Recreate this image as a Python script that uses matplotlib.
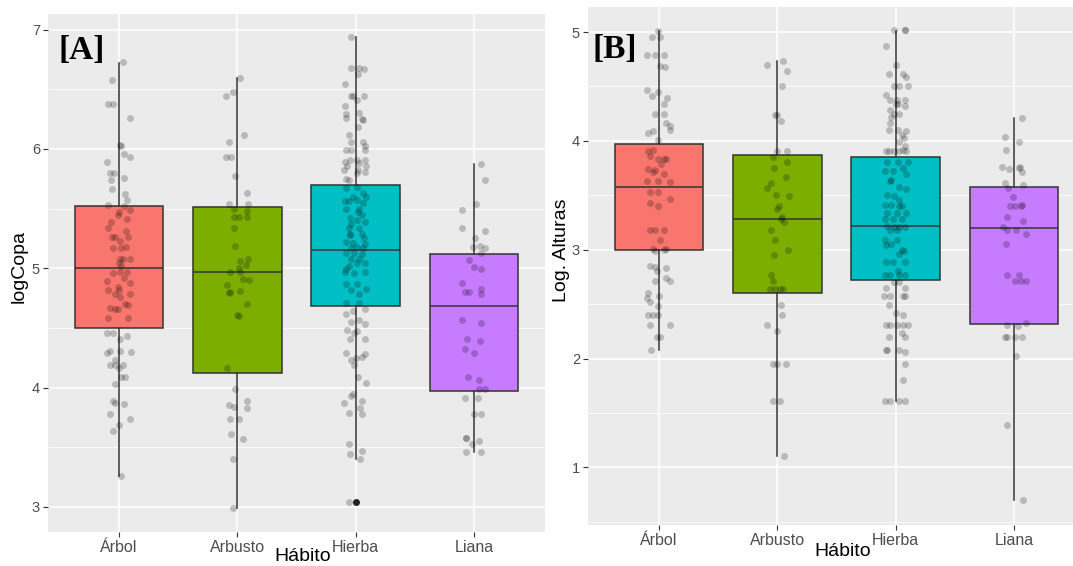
import numpy as np
import matplotlib
matplotlib.use("Agg")
import matplotlib.pyplot as plt

habitos = ["Árbol", "Arbusto", "Hierba", "Liana"]
colores = ["#F8766D", "#7CAE00", "#00BFC4", "#C77CFF"]

# ---- panel A: logCopa, box statistics ----
copa_q1 = [4.50, 4.12, 4.68, 3.97]
copa_med = [5.00, 4.97, 5.15, 4.68]
copa_q3 = [5.52, 5.51, 5.70, 5.12]
copa_wlo = [3.26, 2.99, 3.40, 3.46]
copa_whi = [6.72, 6.59, 6.94, 5.87]
copa_out = [[], [], [3.04], []]

# jittered observations (value, horizontal jitter in category units)
copa_arbol_y = [6.73, 6.58, 6.38, 6.38, 6.26, 6.03, 6.02, 5.96, 5.93, 5.89,
                5.80, 5.80, 5.74, 5.76, 5.66, 5.62, 5.57, 5.53, 5.52, 5.49,
                5.47, 5.45, 5.39, 5.34, 5.41, 5.31, 5.26, 5.26, 5.26, 5.23,
                5.17, 5.17, 5.18, 5.08, 5.08, 5.08, 5.04, 5.02,
                4.96, 4.97, 4.97, 4.89, 4.88, 4.92, 4.84, 4.82, 4.82, 4.78,
                4.78, 4.76, 4.70, 4.69, 4.67, 4.66, 4.66, 4.58, 4.58, 4.46,
                4.46, 4.43, 4.41, 4.31, 4.31, 4.30, 4.29, 4.23, 4.19, 4.19,
                4.19, 4.16, 4.09, 4.09, 4.03, 3.89, 3.87, 3.86, 3.78, 3.74,
                3.69, 3.64, 3.26]
copa_arbol_jit = [0.03, -0.06, -0.09, -0.05, 0.09, 0.01, 0.02, 0.04, 0.09, -0.10,
                  -0.08, -0.04, -0.07, 0.04, -0.06, 0.05, 0.07, -0.09, 0.04, 0.09,
                  0.00, -0.01, -0.07, -0.09, 0.07, 0.06, -0.06, -0.03, 0.08, 0.01,
                  -0.05, 0.02, 0.06, 0.03, 0.09, 0.01, 0.00, 0.02,
                  -0.05, 0.01, 0.07, -0.10, 0.09, 0.04, -0.01, -0.09, 0.00, -0.03,
                  0.09, 0.01, 0.05, 0.08, -0.08, -0.03, -0.01, -0.09, 0.08, -0.10,
                  -0.05, 0.07, 0.01, -0.08, 0.01, 0.10, -0.10, -0.03, -0.08, -0.03,
                  0.03, 0.00, 0.02, 0.05, -0.03, -0.05, -0.03, 0.04, -0.08, 0.09,
                  0.00, -0.05, 0.02]

copa_arbusto_y = [6.59, 6.48, 6.44, 6.12, 6.06, 5.93, 5.93, 5.77, 5.63, 5.54,
                  5.54, 5.50, 5.48, 5.43, 5.43, 5.43, 5.34, 5.19, 5.06, 5.08,
                  5.00, 5.03, 4.97, 4.97, 4.91, 4.90, 4.86, 4.80, 4.79, 4.81,
                  4.70, 4.61, 4.60, 4.16, 3.99, 3.85, 3.84, 3.89, 3.83, 3.74,
                  3.74, 3.61, 3.57, 3.40, 2.99]
copa_arbusto_jit = [0.02, -0.04, -0.10, 0.06, -0.07, -0.10, -0.05, -0.02, 0.08, -0.07,
                    0.09, -0.03, 0.08, -0.03, 0.01, 0.08, -0.03, -0.02, 0.02, 0.09,
                    0.01, 0.07, -0.06, 0.02, 0.05, 0.10, -0.09, -0.06, -0.07, 0.02,
                    0.08, 0.00, 0.01, -0.09, -0.02, -0.07, -0.03, 0.08, 0.08, -0.06,
                    0.01, -0.05, 0.05, -0.04, -0.04]

copa_hierba_y = [6.94, 6.68, 6.68, 6.67, 6.63, 6.54, 6.44, 6.44, 6.44, 6.41,
                 6.36, 6.29, 6.26, 6.30, 6.25, 6.24, 6.18, 6.12, 6.06, 6.06,
                 6.02, 5.99, 5.99, 5.99, 5.91, 5.91, 5.91, 5.89, 5.82, 5.86,
                 5.86, 5.88, 5.75, 5.74, 5.80, 5.81, 5.82,
                 5.67, 5.68, 5.63, 5.56, 5.56, 5.57, 5.55, 5.50, 5.50, 5.42,
                 5.40, 5.39, 5.34, 5.34, 5.29, 5.29, 5.22, 5.21, 5.20, 5.17,
                 5.18, 5.17, 5.13, 5.08, 5.08, 5.04, 5.04, 4.99,
                 5.60, 5.45, 5.37, 5.25, 5.13, 5.02, 5.12, 5.47, 5.28, 5.60,
                 4.97, 4.96, 4.97, 4.87, 4.87, 4.83, 4.82, 4.78, 4.71, 4.71,
                 4.62, 4.64, 4.66, 4.55, 4.57, 4.53, 4.48, 4.47, 4.41, 4.41,
                 4.46, 4.29, 4.23, 4.25, 4.28, 4.26, 4.19, 4.09, 4.04, 3.93,
                 3.95, 3.87, 3.89, 3.83, 3.79, 3.78, 3.53, 3.44, 3.47, 3.40,
                 3.04]
copa_hierba_jit = [-0.04, -0.04, 0.03, 0.07, 0.02, -0.09, -0.04, -0.02, 0.07, 0.01,
                   -0.09, -0.08, -0.08, 0.03, 0.05, 0.06, 0.02, -0.06, -0.04, 0.06,
                   0.08, -0.08, -0.04, 0.08, -0.05, 0.01, 0.08, -0.09, -0.10, -0.07,
                   0.09, 0.03, -0.08, -0.06, 0.01, 0.08, 0.02,
                   -0.08, 0.01, 0.06, -0.09, -0.06, 0.01, 0.06, -0.08, 0.03, -0.05,
                   0.01, 0.08, -0.06, 0.03, -0.05, 0.05, -0.08, -0.02, 0.08, -0.04,
                   0.01, 0.06, -0.08, -0.04, 0.03, 0.01, 0.08, -0.08,
                   -0.02, 0.05, -0.04, 0.07, -0.01, -0.06, 0.05, 0.02, -0.05, 0.09,
                   -0.09, -0.01, 0.08, -0.08, 0.01, 0.09, -0.04, 0.03, -0.08, 0.03,
                   -0.08, -0.02, 0.08, -0.04, 0.03, 0.08, -0.07, 0.01, -0.05, 0.08,
                   -0.01, -0.08, -0.04, 0.00, 0.08, 0.05, -0.01, 0.02, 0.09, -0.04,
                   -0.02, -0.10, 0.05, 0.04, -0.06, 0.05, -0.06, -0.05, 0.05, 0.04,
                   -0.06]

copa_liana_y = [5.87, 5.74, 5.54, 5.49, 5.34, 5.31, 5.25, 5.19, 5.17, 5.18,
                5.13, 5.07, 5.01, 4.99, 4.88, 4.80, 4.80, 4.83, 4.78, 4.57,
                4.54, 4.41, 4.39, 4.32, 4.29, 4.09, 4.06, 3.99, 3.99, 3.91,
                3.91, 3.78, 3.78, 3.58, 3.58, 3.53, 3.55, 3.46, 3.46]
copa_liana_jit = [0.06, 0.09, 0.02, -0.10, -0.10, 0.09, 0.01, 0.05, 0.09, -0.01,
                  0.06, -0.04, 0.00, 0.06, -0.10, -0.08, -0.04, 0.06, 0.06, -0.10,
                  0.06, -0.06, 0.05, -0.08, 0.00, -0.05, 0.04, 0.04, 0.09, -0.08,
                  0.03, 0.00, 0.06, -0.07, -0.07, -0.02, 0.04, -0.07, 0.06]

# ---- panel B: Log. Alturas ----
alt_q1 = [3.00, 2.60, 2.72, 2.32]
alt_med = [3.58, 3.28, 3.22, 3.20]
alt_q3 = [3.97, 3.87, 3.855, 3.575]
alt_wlo = [2.08, 1.10, 1.61, 0.70]
alt_whi = [5.01, 4.73, 5.01, 4.21]
alt_out = [[], [], [], []]

alt_arbol_y = [5.01, 4.95, 4.95, 4.79, 4.79, 4.79, 4.69, 4.68, 4.47, 4.45,
               4.41, 4.39, 4.34, 4.25, 4.25, 4.16, 4.14, 4.10, 4.07, 4.09,
               4.01, 3.91, 3.92, 3.83, 3.83, 3.86, 3.83, 3.74, 3.71, 3.79,
               3.70, 3.73, 3.62, 3.63, 3.63, 3.53, 3.53, 3.47, 3.43, 3.40,
               3.18, 3.18, 3.18, 3.09, 3.01, 3.00, 3.01, 2.99, 2.85, 2.84,
               2.83, 2.80, 2.74, 2.71, 2.71, 2.60, 2.56, 2.52, 2.57, 2.48,
               2.40, 2.40, 2.40, 2.31, 2.31, 2.20, 2.20, 2.08]
alt_arbol_jit = [-0.01, -0.06, 0.01, -0.10, -0.03, 0.04, 0.01, 0.05, -0.10, -0.01,
                 -0.06, 0.07, 0.04, -0.03, 0.04, 0.06, 0.09, 0.09, -0.09, -0.05,
                 -0.01, -0.09, -0.05, 0.04, 0.06, -0.08, -0.01, -0.09, -0.05, 0.02,
                 0.04, -0.03, 0.09, -0.10, -0.01, -0.08, -0.01, 0.09, -0.08, -0.01,
                 -0.08, -0.03, 0.04, 0.01, -0.05, 0.04, 0.06, -0.03, -0.08, -0.03,
                 0.06, -0.02, 0.06, 0.09, -0.03, -0.09, -0.10, -0.08, 0.00, -0.01,
                 -0.09, -0.05, -0.01, -0.08, 0.09, -0.02, 0.01, -0.07]

alt_arbusto_y = [4.73, 4.70, 4.64, 4.50, 4.24, 4.24, 4.18, 3.91, 3.91, 3.85,
                 3.81, 3.75, 3.67, 3.61, 3.57, 3.50, 3.49, 3.40, 3.37, 3.30,
                 3.25, 3.28, 3.18, 3.09, 3.00, 2.95, 2.77, 2.71, 2.64, 2.64,
                 2.64, 2.64, 2.49, 2.40, 2.31, 2.25, 1.95, 1.95, 1.95, 1.61,
                 1.61, 1.10]
alt_arbusto_jit = [0.05, -0.09, 0.08, 0.04, -0.02, 0.00, 0.03, 0.00, 0.08, -0.04,
                   0.08, -0.03, 0.07, -0.05, -0.09, -0.01, 0.10, 0.01, 0.00, 0.04,
                   0.06, 0.03, -0.05, -0.02, 0.09, -0.03, -0.05, -0.04, -0.06, -0.02,
                   0.02, 0.05, 0.03, 0.04, -0.09, 0.00, -0.04, 0.00, 0.07, -0.04,
                   0.02, 0.06]

alt_hierba_y = [5.02, 5.02, 5.02, 4.87, 4.70, 4.61, 4.61, 4.59, 4.50, 4.50,
                4.50, 4.42, 4.38, 4.38, 4.38, 4.34, 4.34, 4.32, 4.28, 4.25,
                4.25, 4.22, 4.16, 4.10, 4.10, 4.09, 4.05, 4.03, 3.99, 3.95,
                3.92, 3.91, 3.91, 3.91, 3.91, 3.91,
                3.81, 3.81, 3.81, 3.72, 3.72, 3.75, 3.70, 3.63, 3.64, 3.58,
                3.50, 3.49, 3.56, 3.46, 3.41, 3.41, 3.40, 3.40, 3.34, 3.34,
                3.34, 3.28, 3.28, 3.28, 3.22, 3.21, 3.21, 3.21, 3.18, 3.18,
                3.09, 3.09, 3.05, 3.04, 3.00, 2.99, 2.96, 2.89, 2.89, 2.89,
                2.77, 2.77, 2.77, 2.77, 2.80, 2.65, 2.70, 2.65, 2.70, 2.57,
                2.57, 2.57, 2.57, 2.49, 2.42, 2.40, 2.31, 2.31, 2.31, 2.31,
                2.31, 2.23, 2.20, 2.20, 2.08, 2.08, 2.08, 2.06, 1.95, 1.80,
                1.61, 1.61, 1.61, 1.61]
alt_hierba_jit = [-0.01, 0.08, 0.08, -0.08, 0.00, -0.06, 0.06, 0.09, -0.01, 0.03,
                  0.10, -0.08, -0.05, 0.01, 0.08, 0.02, 0.00, 0.08, -0.05, -0.01,
                  0.03, -0.04, -0.05, -0.06, 0.02, 0.09, 0.05, 0.07, 0.03, 0.08,
                  0.06, -0.08, -0.06, -0.01, 0.03, 0.09,
                  -0.07, 0.02, 0.10, -0.09, -0.02, 0.06, 0.09, -0.05, -0.04, 0.03,
                  -0.07, -0.01, 0.09, 0.03, -0.09, -0.04, 0.03, 0.05, -0.07, 0.01,
                  0.09, -0.09, -0.02, 0.05, -0.07, -0.01, 0.03, 0.08, -0.05, 0.01,
                  -0.09, 0.01, -0.04, -0.08, 0.05, 0.07, 0.03, -0.08, -0.02, 0.08,
                  -0.09, -0.05, 0.03, 0.08, 0.02, -0.08, -0.01, 0.08, 0.03, -0.10,
                  -0.05, 0.06, 0.08, -0.06, 0.00, 0.06, -0.08, -0.05, 0.01, 0.06,
                  0.10, 0.05, -0.06, 0.08, -0.08, -0.07, 0.03, 0.08, 0.08, 0.06,
                  -0.09, -0.05, 0.03, 0.08]

alt_liana_y = [4.21, 4.04, 3.99, 3.92, 3.76, 3.74, 3.75, 3.76, 3.71, 3.61,
               3.57, 3.59, 3.48, 3.40, 3.40, 3.41, 3.40, 3.30, 3.26, 3.21,
               3.18, 3.18, 3.14, 3.05, 2.77, 2.77, 2.71, 2.71, 2.71, 2.31,
               2.30, 2.33, 2.20, 2.20, 2.20, 2.20, 2.02, 1.39, 0.70]
alt_liana_jit = [0.07, -0.08, 0.04, -0.07, -0.10, -0.04, 0.04, 0.05, 0.07, -0.08,
                 -0.05, 0.08, -0.01, -0.03, 0.01, 0.07, 0.06, -0.06, 0.08, -0.09,
                 -0.06, 0.02, 0.10, -0.07, -0.06, 0.04, 0.01, 0.06, 0.10, -0.06,
                 0.03, 0.10, -0.08, -0.06, 0.01, 0.07, 0.02, -0.06, 0.08]

W, H = 1073, 566
fig = plt.figure(figsize=(W / 100, H / 100), dpi=100, facecolor="white")


def panel(rect, q1, med, q3, wlo, whi, out, pts, ylabel, ylim, yticks, yminor,
          tag, tag_xy, ylab_xy, xlab_y):
    ax = fig.add_axes(rect)
    ax.set_facecolor("#EBEBEB")
    stats = [dict(q1=a, med=m, q3=b, whislo=lo, whishi=hi, fliers=f)
             for a, m, b, lo, hi, f in zip(q1, med, q3, wlo, whi, out)]
    edge = "#333333"
    bp = ax.bxp(stats, positions=[1, 2, 3, 4], widths=0.75, patch_artist=True,
                showcaps=False,
                boxprops=dict(edgecolor=edge, linewidth=1.1),
                medianprops=dict(color=edge, linewidth=1.1),
                whiskerprops=dict(color=edge, linewidth=1.1),
                flierprops=dict(marker="o", markerfacecolor="#222222",
                                markeredgecolor="none", markersize=5))
    for patch, c in zip(bp["boxes"], colores):
        patch.set_facecolor(c)
    for i, (yv, jit) in enumerate(pts):
        ax.scatter(i + 1 + np.array(jit), yv, s=25, c="black", alpha=0.21,
                   linewidths=0, zorder=4)

    ax.set_xlim(0.4, 4.6)
    ax.set_ylim(*ylim)
    ax.set_xticks([1, 2, 3, 4])
    ax.set_xticklabels(habitos)
    ax.set_yticks(yticks)
    ax.set_yticklabels([f"{t:g}" for t in yticks])
    ax.set_yticks(yminor, minor=True)
    ax.set_axisbelow(True)
    ax.grid(which="major", color="white", linewidth=1.1)
    ax.grid(which="minor", axis="y", color="white", linewidth=0.55)
    for s in ax.spines.values():
        s.set_visible(False)
    ax.tick_params(which="major", length=3.8, width=0.8, color="#333333",
                   labelcolor="#4D4D4D", pad=2)
    ax.tick_params(axis="x", labelsize=11.5)
    ax.tick_params(axis="y", labelsize=10.5)
    ax.tick_params(which="minor", length=0)
    for lab in ax.get_xticklabels() + ax.get_yticklabels():
        lab.set_family("Liberation Sans")

    ax.set_ylabel(ylabel, fontsize=14, family="Liberation Sans")
    ax.yaxis.set_label_coords(*ylab_xy)
    ax.set_xlabel("Hábito", fontsize=14, family="Liberation Sans")
    ax.xaxis.set_label_coords(0.513, xlab_y)
    ax.text(tag_xy[0], tag_xy[1], tag, transform=ax.transAxes, fontsize=24,
            fontweight="bold", family="Liberation Serif", ha="left", va="top")
    return ax


panel([48 / W, (H - 532) / H, 497 / W, 518 / H],
      copa_q1, copa_med, copa_q3, copa_wlo, copa_whi, copa_out,
      [(copa_arbol_y, copa_arbol_jit), (copa_arbusto_y, copa_arbusto_jit),
       (copa_hierba_y, copa_hierba_jit), (copa_liana_y, copa_liana_jit)],
      "logCopa", (2.79, 7.13), [3, 4, 5, 6, 7], [3.5, 4.5, 5.5, 6.5],
      "[A]", (0.022, 0.96), (-0.040, 0.512), -0.031)

# right panel runs past the right edge of the image, as in the original
panel([588 / W, (H - 525) / H, 497 / W, 518 / H],
      alt_q1, alt_med, alt_q3, alt_wlo, alt_whi, alt_out,
      [(alt_arbol_y, alt_arbol_jit), (alt_arbusto_y, alt_arbusto_jit),
       (alt_hierba_y, alt_hierba_jit), (alt_liana_y, alt_liana_jit)],
      "Log. Alturas", (0.47, 5.23), [1, 2, 3, 4, 5],
      [0.5, 1.5, 2.5, 3.5, 4.5],
      "[B]", (0.01, 0.948), (-0.036, 0.531), -0.035)

fig.savefig("out.png", dpi=100)
